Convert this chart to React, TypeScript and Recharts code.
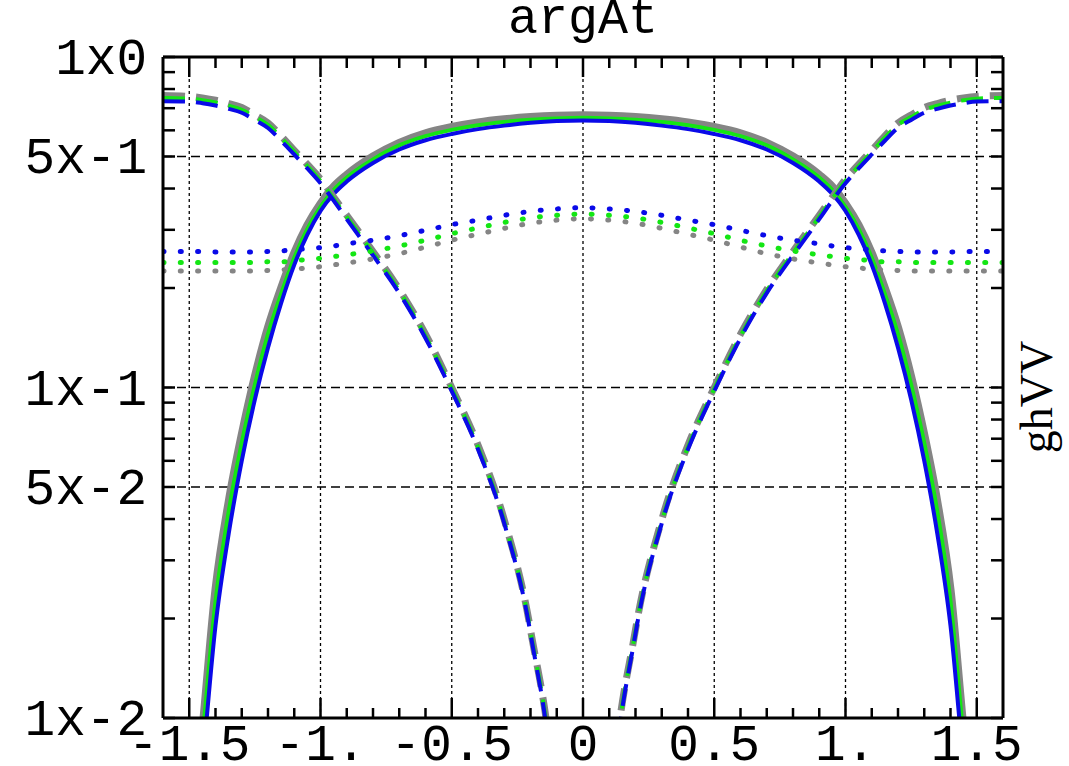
import { LineChart, Line, XAxis, YAxis, ReferenceLine } from 'recharts'

const xs = [
  -1.6, -1.5, -1.45, -1.4, -1.35, -1.3, -1.25, -1.2, -1.15, -1.1, -1.05, -1.0, -0.95, -0.9, -0.8, -0.7, -0.6, -0.5, -0.4, -0.3, -0.2, -0.1,
  0,
  0.1, 0.2, 0.3, 0.4, 0.5, 0.6, 0.7, 0.8, 0.9, 0.95, 1.0, 1.05, 1.1, 1.15, 1.2, 1.25, 1.3, 1.35, 1.4, 1.45, 1.5, 1.6,
]

// solid curves
const solidGray = [
  0.0005, 0.004, 0.0092, 0.0245, 0.045, 0.072, 0.108, 0.152, 0.2, 0.255, 0.31, 0.36, 0.405, 0.44, 0.5, 0.55, 0.588, 0.614, 0.634, 0.648, 0.658, 0.664,
  0.666,
  0.664, 0.658, 0.648, 0.634, 0.614, 0.588, 0.55, 0.5, 0.44, 0.405, 0.36, 0.31, 0.255, 0.2, 0.152, 0.108, 0.072, 0.045, 0.0245, 0.0092, 0.004, 0.0005,
]
const solidGreen = [
  0.00045, 0.0037, 0.0087, 0.0225, 0.042, 0.068, 0.102, 0.145, 0.192, 0.247, 0.302, 0.352, 0.396, 0.432, 0.49, 0.54, 0.576, 0.602, 0.622, 0.636, 0.646, 0.652,
  0.655,
  0.652, 0.646, 0.636, 0.622, 0.602, 0.576, 0.54, 0.49, 0.432, 0.396, 0.352, 0.302, 0.247, 0.192, 0.145, 0.102, 0.068, 0.042, 0.0225, 0.0087, 0.0037, 0.00045,
]
const solidBlue = [
  0.0004, 0.003, 0.0072, 0.019, 0.036, 0.06, 0.092, 0.132, 0.18, 0.235, 0.29, 0.342, 0.385, 0.42, 0.478, 0.525, 0.56, 0.585, 0.605, 0.62, 0.632, 0.64,
  0.643,
  0.64, 0.632, 0.62, 0.605, 0.585, 0.56, 0.525, 0.478, 0.42, 0.385, 0.342, 0.29, 0.235, 0.18, 0.132, 0.092, 0.06, 0.036, 0.019, 0.0072, 0.003, 0.0004,
]

// dashed curves
const dashGray = [
  0.765, 0.76, 0.752, 0.74, 0.723, 0.703, 0.668, 0.632, 0.577, 0.522, 0.473, 0.427, 0.377, 0.332, 0.258, 0.198, 0.145, 0.1, 0.067, 0.0398, 0.0185, 0.0046,
  0.0001,
  0.0046, 0.0185, 0.0398, 0.067, 0.1, 0.145, 0.198, 0.258, 0.332, 0.377, 0.427, 0.473, 0.522, 0.577, 0.632, 0.668, 0.703, 0.723, 0.74, 0.752, 0.76, 0.765,
]
const dashGreen = [
  0.752, 0.748, 0.74, 0.728, 0.712, 0.692, 0.658, 0.623, 0.57, 0.516, 0.468, 0.422, 0.373, 0.328, 0.255, 0.196, 0.143, 0.099, 0.066, 0.0393, 0.0183, 0.0045,
  0.0001,
  0.0045, 0.0183, 0.0393, 0.066, 0.099, 0.143, 0.196, 0.255, 0.328, 0.373, 0.422, 0.468, 0.516, 0.57, 0.623, 0.658, 0.692, 0.712, 0.728, 0.74, 0.748, 0.752,
]
const dashBlue = [
  0.735, 0.733, 0.725, 0.713, 0.697, 0.678, 0.645, 0.61, 0.558, 0.507, 0.46, 0.415, 0.368, 0.323, 0.251, 0.193, 0.141, 0.0975, 0.065, 0.0388, 0.018, 0.0044,
  0.0001,
  0.0044, 0.018, 0.0388, 0.065, 0.0975, 0.141, 0.193, 0.251, 0.323, 0.368, 0.415, 0.46, 0.507, 0.558, 0.61, 0.645, 0.678, 0.697, 0.713, 0.725, 0.733, 0.735,
]

// dotted curves
const dotGray = [
  0.225, 0.225, 0.225, 0.225, 0.225, 0.225, 0.225, 0.226, 0.227, 0.228, 0.23, 0.232, 0.235, 0.238, 0.245, 0.254, 0.266, 0.279, 0.291, 0.303, 0.314, 0.321,
  0.324,
  0.321, 0.314, 0.303, 0.291, 0.279, 0.266, 0.254, 0.245, 0.238, 0.235, 0.232, 0.23, 0.228, 0.227, 0.226, 0.225, 0.225, 0.225, 0.225, 0.225, 0.225, 0.225,
]
const dotGreen = [
  0.239, 0.239, 0.239, 0.239, 0.239, 0.239, 0.239, 0.24, 0.24, 0.242, 0.244, 0.246, 0.249, 0.252, 0.259, 0.268, 0.279, 0.292, 0.304, 0.316, 0.326, 0.332,
  0.335,
  0.332, 0.326, 0.316, 0.304, 0.292, 0.279, 0.268, 0.259, 0.252, 0.249, 0.246, 0.244, 0.242, 0.24, 0.24, 0.239, 0.239, 0.239, 0.239, 0.239, 0.239, 0.239,
]
const dotBlue = [
  0.258, 0.258, 0.258, 0.257, 0.257, 0.257, 0.257, 0.258, 0.259, 0.261, 0.263, 0.265, 0.268, 0.272, 0.279, 0.288, 0.299, 0.311, 0.321, 0.332, 0.341, 0.347,
  0.35,
  0.347, 0.341, 0.332, 0.321, 0.311, 0.299, 0.288, 0.279, 0.272, 0.268, 0.265, 0.263, 0.261, 0.259, 0.258, 0.257, 0.257, 0.257, 0.257, 0.258, 0.258, 0.258,
]

// axes
const xTicks = [
  -1.5, -1.4, -1.3, -1.2, -1.1, -1.0, -0.9, -0.8, -0.7, -0.6, -0.5, -0.4, -0.3, -0.2, -0.1, 0,
  0.1, 0.2, 0.3, 0.4, 0.5, 0.6, 0.7, 0.8, 0.9, 1.0, 1.1, 1.2, 1.3, 1.4, 1.5,
]
const xMajor = [-1.5, -1.0, -0.5, 0, 0.5, 1.0, 1.5]
const xMajorLabels = ['-1.5', '-1.', '-0.5', '0', '0.5', '1.', '1.5']
const yTicks = [
  0.01, 0.02, 0.03, 0.04, 0.05, 0.06, 0.07, 0.08, 0.09,
  0.1, 0.2, 0.3, 0.4, 0.5, 0.6, 0.7, 0.8, 0.9, 1,
]
const yLabelled = [1, 0.5, 0.1, 0.05, 0.01]
const yLabels = ['1x0', '5x-1', '1x-1', '5x-2', '1x-2']
const yGrid = [0.5, 0.1, 0.05]

const data = xs.map((x, i) => ({
  x,
  solidGray: solidGray[i],
  solidGreen: solidGreen[i],
  solidBlue: solidBlue[i],
  dashGray: dashGray[i],
  dashGreen: dashGreen[i],
  dashBlue: dashBlue[i],
  dotGray: dotGray[i],
  dotGreen: dotGreen[i],
  dotBlue: dotBlue[i],
}))

const GRAY = '#858585'
const GREEN = '#14e614'
const BLUE = '#0a0ae8'
const MONO = '"Liberation Mono", "DejaVu Sans Mono", monospace'

const findIdx = (arr: number[], v: number) => arr.findIndex((a) => Math.abs(a - v) < 1e-6)

function BottomTick({ x, y, payload }: any) {
  const i = findIdx(xMajor, payload.value)
  return (
    <g>
      <line x1={x} x2={x} y1={y} y2={y - (i >= 0 ? 20 : 10)} stroke="#000" strokeWidth={2.5} />
      {i >= 0 && (
        <text x={x} y={y + 42} textAnchor="middle" fontFamily={MONO} fontSize={51} fill="#000">
          {xMajorLabels[i]}
        </text>
      )}
    </g>
  )
}

function TopTick({ x, y, payload }: any) {
  const i = findIdx(xMajor, payload.value)
  return <line x1={x} x2={x} y1={y} y2={y + (i >= 0 ? 20 : 11)} stroke="#000" strokeWidth={2.5} />
}

function LeftTick({ x, y, payload }: any) {
  const i = findIdx(yLabelled, payload.value)
  return (
    <g>
      <line x1={x} x2={x + 12} y1={y} y2={y} stroke="#000" strokeWidth={2.5} />
      {i >= 0 && (
        <text x={x - 16} y={y + 17} textAnchor="end" fontFamily={MONO} fontSize={51} fill="#000">
          {yLabels[i]}
        </text>
      )}
    </g>
  )
}

function RightTick({ x, y }: any) {
  return <line x1={x} x2={x - 12} y1={y} y2={y} stroke="#000" strokeWidth={2.5} />
}

export default function App() {
  return (
    <div style={{ position: 'absolute', left: 0, top: 0, width: 1069, height: 766, background: '#fff' }}>
      <div
        style={{
          position: 'absolute', left: 383, width: 400, top: 4, textAlign: 'center',
          fontFamily: MONO, fontSize: 50, lineHeight: '32px', color: '#000',
        }}
      >
        argAt
      </div>
      <div
        style={{
          position: 'absolute', left: 1037, top: 397, transform: 'translate(-50%, -50%) rotate(-90deg)',
          fontFamily: '"Liberation Serif", serif', fontSize: 46, lineHeight: '46px', color: '#000', whiteSpace: 'nowrap',
        }}
      >
        ghVV
      </div>
      <LineChart width={1069} height={766} data={data} margin={{ top: 0, right: 0, bottom: 0, left: 0 }}>
        <XAxis
          xAxisId="bottom" dataKey="x" type="number" domain={[-1.6, 1.6]} ticks={xTicks} interval={0}
          height={48} axisLine={{ stroke: '#000', strokeWidth: 3 }} tickLine={false} tickSize={0} tickMargin={0}
          tick={<BottomTick />} allowDataOverflow
        />
        <XAxis
          xAxisId="top" orientation="top" dataKey="x" type="number" domain={[-1.6, 1.6]} ticks={xTicks} interval={0}
          height={57} axisLine={{ stroke: '#000', strokeWidth: 3 }} tickLine={false} tickSize={0} tickMargin={0}
          tick={<TopTick />} allowDataOverflow
        />
        <YAxis
          yAxisId="left" type="number" scale="log" domain={[0.01, 1]} ticks={yTicks} interval={0}
          width={163} axisLine={{ stroke: '#000', strokeWidth: 3 }} tickLine={false} tickSize={0} tickMargin={0}
          tick={<LeftTick />} allowDataOverflow
        />
        <YAxis
          yAxisId="right" orientation="right" type="number" scale="log" domain={[0.01, 1]} ticks={yTicks} interval={0}
          width={66} axisLine={{ stroke: '#000', strokeWidth: 3 }} tickLine={false} tickSize={0} tickMargin={0}
          tick={<RightTick />} allowDataOverflow
        />
        {xMajor.map((v) => (
          <ReferenceLine key={'gx' + v} x={v} xAxisId="bottom" yAxisId="left" stroke="#000" strokeWidth={1.3} strokeDasharray="3 3" />
        ))}
        {yGrid.map((v) => (
          <ReferenceLine key={'gy' + v} y={v} xAxisId="bottom" yAxisId="left" stroke="#000" strokeWidth={1.5} strokeDasharray="9 5" />
        ))}

        <Line xAxisId="bottom" yAxisId="left" type="monotone" dataKey="solidGray" stroke={GRAY} strokeWidth={8} dot={false} isAnimationActive={false} />
        <Line xAxisId="bottom" yAxisId="left" type="monotone" dataKey="solidGreen" stroke={GREEN} strokeWidth={4} dot={false} isAnimationActive={false} />
        <Line xAxisId="bottom" yAxisId="left" type="monotone" dataKey="solidBlue" stroke={BLUE} strokeWidth={4} dot={false} isAnimationActive={false} />

        <Line xAxisId="bottom" yAxisId="left" type="monotone" dataKey="dashGray" stroke={GRAY} strokeWidth={7} strokeDasharray="22 11" dot={false} isAnimationActive={false} />
        <Line xAxisId="bottom" yAxisId="left" type="monotone" dataKey="dashGreen" stroke={GREEN} strokeWidth={4} strokeDasharray="22 11" dot={false} isAnimationActive={false} />
        <Line xAxisId="bottom" yAxisId="left" type="monotone" dataKey="dashBlue" stroke={BLUE} strokeWidth={4} strokeDasharray="22 11" dot={false} isAnimationActive={false} />

        <Line xAxisId="bottom" yAxisId="left" type="monotone" dataKey="dotGray" stroke={GRAY} strokeWidth={5} strokeDasharray="1 16.3" strokeLinecap="round" dot={false} isAnimationActive={false} />
        <Line xAxisId="bottom" yAxisId="left" type="monotone" dataKey="dotGreen" stroke={GREEN} strokeWidth={5} strokeDasharray="1 16.3" strokeLinecap="round" dot={false} isAnimationActive={false} />
        <Line xAxisId="bottom" yAxisId="left" type="monotone" dataKey="dotBlue" stroke={BLUE} strokeWidth={5} strokeDasharray="1 16.3" strokeLinecap="round" dot={false} isAnimationActive={false} />
      </LineChart>
    </div>
  )
}
